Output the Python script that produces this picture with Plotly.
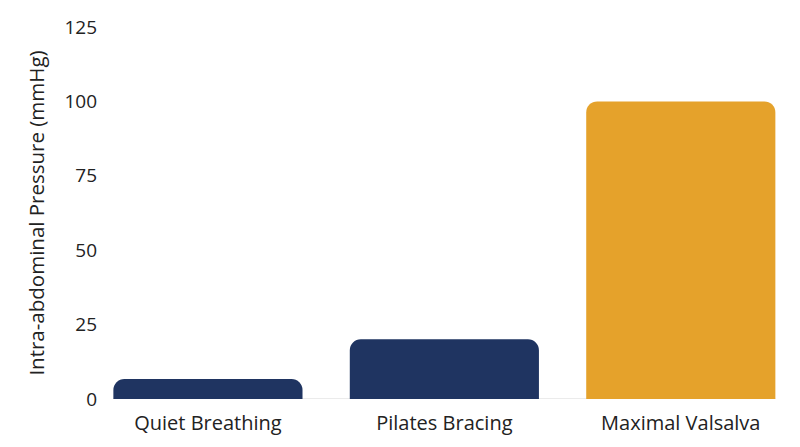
import plotly.graph_objects as go

# data
categories = ["Quiet Breathing", "Pilates Bracing", "Maximal Valsalva"]
pressure_mmhg = [6.7, 20.1, 100]
bar_colors = ["#1f3461", "#1f3461", "#e5a22b"]
y_ticks = [0, 25, 50, 75, 100, 125]

bar_width = 0.8

fig = go.Figure()
fig.add_trace(go.Bar(
    x=categories,
    y=pressure_mmhg,
    marker=dict(color=bar_colors, line=dict(width=0)),
    width=bar_width,
))

# baseline only runs from the first bar to the last one
fig.add_shape(
    type="line", xref="x", yref="y",
    x0=-bar_width / 2, x1=len(categories) - 1 + bar_width / 2, y0=0, y1=0,
    line=dict(color="#d6d6d6", width=1), layer="below",
)

# page body has an 8px default margin, so the figure is a bit smaller than the window
fig.update_layout(
    width=792, height=439,
    margin=dict(l=90, r=1, t=19, b=48),
    paper_bgcolor="white", plot_bgcolor="white",
    barcornerradius=11,
    showlegend=False,
    font=dict(family="Open Sans", size=19, color="#222222"),
)
fig.update_xaxes(
    range=[-0.465, 2.5],
    showgrid=False, showline=False, zeroline=False,
    ticks="", tickfont=dict(size=20), ticklabelstandoff=10,
)
fig.update_yaxes(
    range=[0, 125], tickvals=y_ticks, showgrid=False, zeroline=False,
    showline=False, ticks="", tickfont=dict(size=19), ticklabelstandoff=0,
    title=dict(text="Intra-abdominal Pressure (mmHg)", font=dict(size=20.5), standoff=14),
)

fig.write_html("out.html")
